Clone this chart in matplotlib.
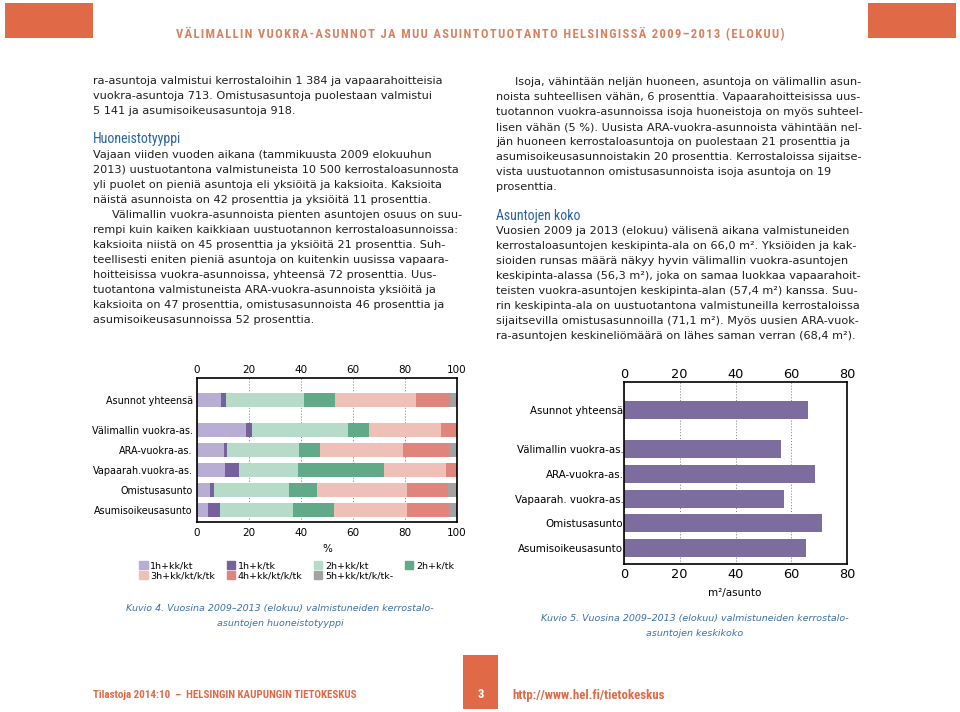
import matplotlib
matplotlib.use('Agg')
import matplotlib.pyplot as plt
from matplotlib.patches import Rectangle, Patch

W, H = 960, 712

# chart 4: room type shares (%)
groups = ['Asunnot yhteensä', 'Välimallin vuokra-as.', 'ARA-vuokra-as.',
          'Vapaarah.vuokra-as.', 'Omistusasunto', 'Asumisoikeusasunto']
room_types = ['1h+kk/kt', '1h+k/tk', '2h+kk/kt', '2h+k/tk',
              '3h+kk/kt/k/tk', '4h+kk/kt/k/tk', '5h+kk/kt/k/tk-']
share_1h_kk = [9.1, 19.0, 10.4, 10.8, 5.0, 4.4]
share_1h_k = [2.2, 2.0, 1.0, 5.4, 1.7, 4.3]
share_2h_kk = [30.0, 37.1, 27.9, 22.7, 28.6, 28.1]
share_2h_k = [11.8, 7.9, 8.0, 33.0, 10.8, 15.8]
share_3h = [31.2, 27.9, 32.1, 23.9, 34.6, 28.1]
share_4h = [13.1, 6.1, 17.4, 4.2, 15.7, 16.1]
share_5h = [2.6, 0.0, 3.2, 0.0, 3.6, 3.2]
pct_ticks = [0, 20, 40, 60, 80, 100]

# chart 5: mean floor area (m2 per dwelling)
size_groups = ['Asunnot yhteensä', 'Välimallin vuokra-as.', 'ARA-vuokra-as.',
               'Vapaarah. vuokra-as.', 'Omistusasunto', 'Asumisoikeusasunto']
mean_size = [66.0, 56.3, 68.4, 57.4, 71.1, 65.2]
size_ticks = [0, 20, 40, 60, 80]

title = "VÄLIMALLIN VUOKRA-ASUNNOT JA MUU ASUINTOTUOTANTO HELSINGISSÄ 2009–2013 (ELOKUU)"
footer_left = "Tilastoja 2014:10  –  HELSINGIN KAUPUNGIN TIETOKESKUS"
footer_right = "http://www.hel.fi/tietokeskus"
page_no = "3"

left_intro = [
    "ra-asuntoja valmistui kerrostaloihin 1 384 ja vapaarahoitteisia",
    "vuokra-asuntoja 713. Omistusasuntoja puolestaan valmistui",
    "5 141 ja asumisoikeusasuntoja 918.",
]
left_head = "Huoneistotyyppi"
left_par1 = [
    "Vajaan viiden vuoden aikana (tammikuusta 2009 elokuuhun",
    "2013) uustuotantona valmistuneista 10 500 kerrostaloasunnosta",
    "yli puolet on pieniä asuntoja eli yksiöitä ja kaksioita. Kaksioita",
    "näistä asunnoista on 42 prosenttia ja yksiöitä 11 prosenttia.",
]
left_par2 = [
    "Välimallin vuokra-asunnoista pienten asuntojen osuus on suu-",
    "rempi kuin kaiken kaikkiaan uustuotannon kerrostaloasunnoissa:",
    "kaksioita niistä on 45 prosenttia ja yksiöitä 21 prosenttia. Suh-",
    "teellisesti eniten pieniä asuntoja on kuitenkin uusissa vapaara-",
    "hoitteisissa vuokra-asunnoissa, yhteensä 72 prosenttia. Uus-",
    "tuotantona valmistuneista ARA-vuokra-asunnoista yksiöitä ja",
    "kaksioita on 47 prosenttia, omistusasunnoista 46 prosenttia ja",
    "asumisoikeusasunnoissa 52 prosenttia.",
]
right_par1 = [
    "Isoja, vähintään neljän huoneen, asuntoja on välimallin asun-",
    "noista suhteellisen vähän, 6 prosenttia. Vapaarahoitteisissa uus-",
    "tuotannon vuokra-asunnoissa isoja huoneistoja on myös suhteel-",
    "lisen vähän (5 %). Uusista ARA-vuokra-asunnoista vähintään nel-",
    "jän huoneen kerrostaloasuntoja on puolestaan 21 prosenttia ja",
    "asumisoikeusasunnoistakin 20 prosenttia. Kerrostaloissa sijaitse-",
    "vista uustuotannon omistusasunnoista isoja asuntoja on 19",
    "prosenttia.",
]
right_head = "Asuntojen koko"
right_par2 = [
    "Vuosien 2009 ja 2013 (elokuu) välisenä aikana valmistuneiden",
    "kerrostaloasuntojen keskipinta-ala on 66,0 m². Yksiöiden ja kak-",
    "sioiden runsas määrä näkyy hyvin välimallin vuokra-asuntojen",
    "keskipinta-alassa (56,3 m²), joka on samaa luokkaa vapaarahoit-",
    "teisten vuokra-asuntojen keskipinta-alan (57,4 m²) kanssa. Suu-",
    "rin keskipinta-ala on uustuotantona valmistuneilla kerrostaloissa",
    "sijaitsevilla omistusasunnoilla (71,1 m²). Myös uusien ARA-vuok-",
    "ra-asuntojen keskineliömäärä on lähes saman verran (68,4 m²).",
]
caption4 = ["Kuvio 4. Vuosina 2009–2013 (elokuu) valmistuneiden kerrostalo-",
            "asuntojen huoneistotyyppi"]
caption5 = ["Kuvio 5. Vuosina 2009–2013 (elokuu) valmistuneiden kerrostalo-",
            "asuntojen keskikoko"]

ORANGE = '#e06a48'
TITLE_COL = '#d9805f'
BLUE = '#2a62a0'
CAP_BLUE = '#3d70a8'
TEXT = '#1e1e1e'
NARROW = ['Liberation Sans Narrow', 'Roboto Condensed', 'Liberation Sans',
          'DejaVu Sans']
room_colors = ['#b8aed4', '#75629c', '#b6dcc9', '#60aa8a',
               '#efc0b7', '#e0857b', '#a3a3a3']

fig = plt.figure(figsize=(9.6, 7.12), dpi=100)


def fx(x):
    return x / W


def fy(y):
    return 1 - y / H


def box(x0, y0, x1, y1, color):
    fig.add_artist(Rectangle((fx(x0), fy(y1)), (x1 - x0) / W, (y1 - y0) / H,
                             transform=fig.transFigure, color=color, lw=0))


def fit_width(txt, width_px):
    r = fig.canvas.get_renderer()
    w = txt.get_window_extent(r).width
    txt.set_fontsize(txt.get_fontsize() * width_px / w)


def spaced(s, sep='\u200a'):
    # letter-spaced caps like the page header
    return sep.join(s)


def lines_at(lines, x, y0, step=15.0, indent=0, size=8.1):
    for i, line in enumerate(lines):
        dx = indent if i == 0 else 0
        fig.text(fx(x + dx), fy(y0 + i * step), line, fontsize=size,
                 color=TEXT, va='center', ha='left')


# page decoration
box(5, 3, 93, 38, ORANGE)
box(868, 3, 956, 38, ORANGE)
t = fig.text(fx(480), fy(34), spaced(title), family=NARROW, weight='bold',
             fontsize=10, color=TITLE_COL, ha='center', va='center')
fit_width(t, 605)

box(463, 655, 498, 709, ORANGE)
fig.text(fx(480.5), fy(695), page_no, family=NARROW, weight='bold',
         fontsize=9, color='white', ha='center', va='center')
t = fig.text(fx(93), fy(695), footer_left, family=NARROW,
             weight='bold', fontsize=8, color=ORANGE, ha='left', va='center')
fit_width(t, 265)
t = fig.text(fx(512), fy(695), footer_right, family=NARROW,
             weight='bold', fontsize=8, color=ORANGE, ha='left', va='center')
fit_width(t, 152)

# body text
lines_at(left_intro, 93, 81)
fig.text(fx(93), fy(139), left_head, family=NARROW, fontsize=10,
         color=BLUE, va='center')
lines_at(left_par1, 93, 155)
lines_at(left_par2, 93, 215, indent=19)

lines_at(right_par1, 496, 82, indent=19)
fig.text(fx(496), fy(216), right_head, family=NARROW, fontsize=10,
         color=BLUE, va='center')
lines_at(right_par2, 496, 231)

for i, line in enumerate(caption4):
    fig.text(fx(280), fy(608 + i * 16), line, fontsize=6.8, style='italic',
             color=CAP_BLUE, ha='center', va='center')
for i, line in enumerate(caption5):
    fig.text(fx(695), fy(618 + i * 15), line, fontsize=6.8, style='italic',
             color=CAP_BLUE, ha='center', va='center')

# chart 4: stacked bars
ax1 = fig.add_axes([fx(197), fy(522), 260 / W, 144 / H])
ypos1 = [0, 1.5, 2.5, 3.5, 4.5, 5.5]
series = [share_1h_kk, share_1h_k, share_2h_kk, share_2h_k,
          share_3h, share_4h, share_5h]
left = [0.0] * len(groups)
for vals, col, lab in zip(series, room_colors, room_types):
    ax1.barh(ypos1, vals, left=left, height=0.7, color=col, label=lab, zorder=2)
    left = [a + b for a, b in zip(left, vals)]
ax1.set_xlim(0, 100)
ax1.set_ylim(6.08, -1.12)
ax1.set_yticks(ypos1)
ax1.set_yticklabels(groups, fontsize=6.9)
ax1.set_xticks(pct_ticks)
ax1.tick_params(axis='y', length=0, pad=3)
ax1.tick_params(axis='x', length=0, pad=4.5, labelsize=7.5)
ax1.grid(axis='x', linestyle=(0, (1, 2)), color='#777777', lw=0.7, zorder=0)
for sp in ax1.spines.values():
    sp.set_linewidth(1.2)
sec1 = ax1.secondary_xaxis('top')
sec1.set_xticks(pct_ticks)
sec1.tick_params(length=0, pad=2.3, labelsize=7.5)
sec1.spines['top'].set_visible(False)
fig.text(fx(327), fy(549), '%', fontsize=7.5, ha='center', va='center')

handles = [Patch(color=c) for c in room_colors]
order = [0, 4, 1, 5, 2, 6, 3]
fig.legend([handles[i] for i in order], [room_types[i] for i in order],
           loc='upper left', bbox_to_anchor=(fx(139), fy(561)), ncol=4,
           frameon=False, fontsize=6.8, handlelength=0.9, handleheight=0.9,
           handletextpad=0.3, columnspacing=1.2, labelspacing=0.1,
           borderpad=0, borderaxespad=0)

# chart 5: mean size
ax2 = fig.add_axes([fx(624), fy(564), 223 / W, 182 / H])
ypos2 = [0, 1.6, 2.6, 3.6, 4.6, 5.6]
ax2.barh(ypos2, mean_size, height=0.74, color='#7d6d9f', zorder=2)
ax2.set_xlim(0, 80)
ax2.set_ylim(6.25, -1.13)
ax2.set_yticks(ypos2)
ax2.set_yticklabels(size_groups, fontsize=7.4)
ax2.set_xticks(size_ticks)
ax2.tick_params(axis='y', length=0, pad=0.5)
ax2.tick_params(axis='x', length=0, pad=3, labelsize=9.3)
ax2.grid(axis='x', linestyle=(0, (1, 2)), color='#777777', lw=0.7, zorder=0)
for sp in ax2.spines.values():
    sp.set_linewidth(1.2)
sec2 = ax2.secondary_xaxis('top')
sec2.set_xticks(size_ticks)
sec2.tick_params(length=0, pad=0.5, labelsize=9.3)
sec2.spines['top'].set_visible(False)
fig.text(fx(735), fy(593), 'm²/asunto', fontsize=7.5, ha='center', va='center')

fig.savefig('out.png', dpi=100)
